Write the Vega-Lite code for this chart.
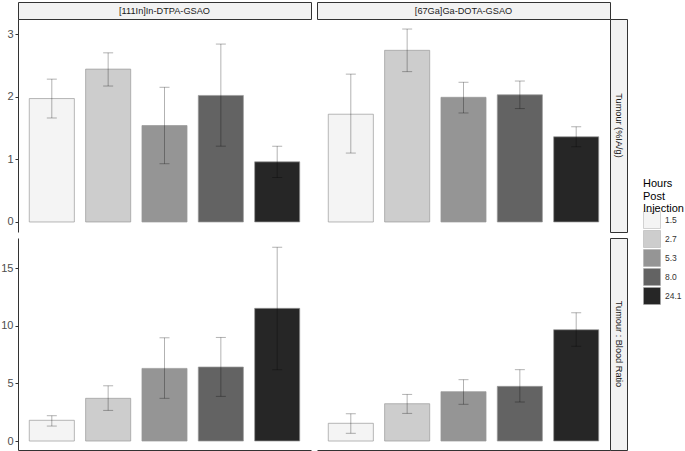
{
  "$schema": "https://vega.github.io/schema/vega-lite/v6.json",
  "padding": {"left": 0, "top": 1, "right": 0, "bottom": 0},
  "background": "white",
  "data": {"values": [
    {"compound": "[111In]In-DTPA-GSAO", "measure": "Tumour (%IA/g)", "hours": "1.5", "mean": 1.97, "lo": 1.66, "hi": 2.28},
    {"compound": "[111In]In-DTPA-GSAO", "measure": "Tumour (%IA/g)", "hours": "2.7", "mean": 2.44, "lo": 2.17, "hi": 2.70},
    {"compound": "[111In]In-DTPA-GSAO", "measure": "Tumour (%IA/g)", "hours": "5.3", "mean": 1.54, "lo": 0.93, "hi": 2.15},
    {"compound": "[111In]In-DTPA-GSAO", "measure": "Tumour (%IA/g)", "hours": "8.0", "mean": 2.02, "lo": 1.21, "hi": 2.84},
    {"compound": "[111In]In-DTPA-GSAO", "measure": "Tumour (%IA/g)", "hours": "24.1", "mean": 0.96, "lo": 0.71, "hi": 1.21},
    {"compound": "[67Ga]Ga-DOTA-GSAO", "measure": "Tumour (%IA/g)", "hours": "1.5", "mean": 1.72, "lo": 1.10, "hi": 2.36},
    {"compound": "[67Ga]Ga-DOTA-GSAO", "measure": "Tumour (%IA/g)", "hours": "2.7", "mean": 2.74, "lo": 2.40, "hi": 3.08},
    {"compound": "[67Ga]Ga-DOTA-GSAO", "measure": "Tumour (%IA/g)", "hours": "5.3", "mean": 1.99, "lo": 1.74, "hi": 2.23},
    {"compound": "[67Ga]Ga-DOTA-GSAO", "measure": "Tumour (%IA/g)", "hours": "8.0", "mean": 2.03, "lo": 1.81, "hi": 2.25},
    {"compound": "[67Ga]Ga-DOTA-GSAO", "measure": "Tumour (%IA/g)", "hours": "24.1", "mean": 1.36, "lo": 1.20, "hi": 1.52},
    {"compound": "[111In]In-DTPA-GSAO", "measure": "Tumour : Blood Ratio", "hours": "1.5", "mean": 1.80, "lo": 1.30, "hi": 2.20},
    {"compound": "[111In]In-DTPA-GSAO", "measure": "Tumour : Blood Ratio", "hours": "2.7", "mean": 3.71, "lo": 2.66, "hi": 4.80},
    {"compound": "[111In]In-DTPA-GSAO", "measure": "Tumour : Blood Ratio", "hours": "5.3", "mean": 6.31, "lo": 3.71, "hi": 8.97},
    {"compound": "[111In]In-DTPA-GSAO", "measure": "Tumour : Blood Ratio", "hours": "8.0", "mean": 6.43, "lo": 3.88, "hi": 9.00},
    {"compound": "[111In]In-DTPA-GSAO", "measure": "Tumour : Blood Ratio", "hours": "24.1", "mean": 11.53, "lo": 6.20, "hi": 16.83},
    {"compound": "[67Ga]Ga-DOTA-GSAO", "measure": "Tumour : Blood Ratio", "hours": "1.5", "mean": 1.54, "lo": 0.67, "hi": 2.37},
    {"compound": "[67Ga]Ga-DOTA-GSAO", "measure": "Tumour : Blood Ratio", "hours": "2.7", "mean": 3.24, "lo": 2.40, "hi": 4.05},
    {"compound": "[67Ga]Ga-DOTA-GSAO", "measure": "Tumour : Blood Ratio", "hours": "5.3", "mean": 4.29, "lo": 3.19, "hi": 5.33},
    {"compound": "[67Ga]Ga-DOTA-GSAO", "measure": "Tumour : Blood Ratio", "hours": "8.0", "mean": 4.75, "lo": 3.39, "hi": 6.20},
    {"compound": "[67Ga]Ga-DOTA-GSAO", "measure": "Tumour : Blood Ratio", "hours": "24.1", "mean": 9.67, "lo": 8.23, "hi": 11.15}
  ]},
  "columns": 4,
  "spacing": 0,
  "bounds": "flush",
  "concat": [
    {"width": 293, "height": 17, "view": {"fill": "#f2f2f2", "stroke": "#333333", "strokeWidth": 1},
     "data": {"values": [{"t": "[111In]In-DTPA-GSAO"}]},
     "mark": {"type": "text", "fontSize": 9.2, "color": "#1a1a1a"},
     "encoding": {"text": {"field": "t"}}},
    {"width": 6, "height": 6, "data": {"values": []}, "mark": "point"},
    {"width": 293, "height": 17, "view": {"fill": "#f2f2f2", "stroke": "#333333", "strokeWidth": 1},
     "data": {"values": [{"t": "[67Ga]Ga-DOTA-GSAO"}]},
     "mark": {"type": "text", "fontSize": 9.2, "color": "#1a1a1a"},
     "encoding": {"text": {"field": "t"}}},
    {"width": 6, "height": 6, "data": {"values": []}, "mark": "point"},

    {
      "width": 293, "height": 213,
      "transform": [{"filter": "datum.compound === '[111In]In-DTPA-GSAO' && datum.measure === 'Tumour (%IA/g)'"}],
      "encoding": {"x": {"field": "hours", "type": "nominal", "sort": ["1.5", "2.7", "5.3", "8.0", "24.1"], "scale": {"paddingInner": 0.2, "paddingOuter": 0.2}, "axis": null}},
      "layer": [
        {"mark": {"type": "bar", "stroke": "#999999", "strokeWidth": 0.7},
         "encoding": {"y": {"field": "mean", "type": "quantitative", "scale": {"domain": [-0.16, 3.24], "nice": false, "zero": false}, "axis": {"values": [0, 1, 2, 3], "format": "d", "title": null}},
           "y2": {"datum": 0},
           "color": {"field": "hours", "type": "nominal", "sort": ["1.5", "2.7", "5.3", "8.0", "24.1"], "scale": {"domain": ["1.5", "2.7", "5.3", "8.0", "24.1"], "range": ["#f4f4f4", "#cdcdcd", "#959595", "#636363", "#262626"]}, "title": ["Hours", "Post", "Injection"]}}},
        {"mark": {"type": "rule", "color": "#000000", "opacity": 0.3},
         "encoding": {"y": {"field": "lo", "type": "quantitative", "axis": {"title": null}}, "y2": {"field": "hi"}}},
        {"mark": {"type": "tick", "color": "#000000", "opacity": 0.3, "size": 10, "thickness": 1},
         "encoding": {"y": {"field": "hi", "type": "quantitative", "axis": {"title": null}}}},
        {"mark": {"type": "tick", "color": "#000000", "opacity": 0.3, "size": 10, "thickness": 1},
         "encoding": {"y": {"field": "lo", "type": "quantitative", "axis": {"title": null}}}}
      ]
    },
    {"width": 6, "height": 6, "data": {"values": []}, "mark": "point"},
    {
      "width": 293, "height": 213,
      "transform": [{"filter": "datum.compound === '[67Ga]Ga-DOTA-GSAO' && datum.measure === 'Tumour (%IA/g)'"}],
      "encoding": {"x": {"field": "hours", "type": "nominal", "sort": ["1.5", "2.7", "5.3", "8.0", "24.1"], "scale": {"paddingInner": 0.2, "paddingOuter": 0.2}, "axis": null}},
      "layer": [
        {"mark": {"type": "bar", "stroke": "#999999", "strokeWidth": 0.7},
         "encoding": {"y": {"field": "mean", "type": "quantitative", "scale": {"domain": [-0.16, 3.24], "nice": false, "zero": false}, "axis": null},
           "y2": {"datum": 0},
           "color": {"field": "hours", "type": "nominal", "sort": ["1.5", "2.7", "5.3", "8.0", "24.1"], "scale": {"domain": ["1.5", "2.7", "5.3", "8.0", "24.1"], "range": ["#f4f4f4", "#cdcdcd", "#959595", "#636363", "#262626"]}, "title": ["Hours", "Post", "Injection"]}}},
        {"mark": {"type": "rule", "color": "#000000", "opacity": 0.3},
         "encoding": {"y": {"field": "lo", "type": "quantitative", "axis": null}, "y2": {"field": "hi"}}},
        {"mark": {"type": "tick", "color": "#000000", "opacity": 0.3, "size": 10, "thickness": 1},
         "encoding": {"y": {"field": "hi", "type": "quantitative", "axis": null}}},
        {"mark": {"type": "tick", "color": "#000000", "opacity": 0.3, "size": 10, "thickness": 1},
         "encoding": {"y": {"field": "lo", "type": "quantitative", "axis": null}}}
      ]
    },
    {"width": 17, "height": 213, "view": {"fill": "#f2f2f2", "stroke": "#333333", "strokeWidth": 1},
     "data": {"values": [{"t": "Tumour (%IA/g)"}]},
     "mark": {"type": "text", "fontSize": 9.2, "color": "#1a1a1a", "angle": 90},
     "encoding": {"text": {"field": "t"}}},

    {"width": 6, "height": 6, "data": {"values": []}, "mark": "point"},
    {"width": 6, "height": 6, "data": {"values": []}, "mark": "point"},
    {"width": 6, "height": 6, "data": {"values": []}, "mark": "point"},
    {"width": 6, "height": 6, "data": {"values": []}, "mark": "point"},

    {
      "width": 293, "height": 212,
      "transform": [{"filter": "datum.compound === '[111In]In-DTPA-GSAO' && datum.measure === 'Tumour : Blood Ratio'"}],
      "encoding": {"x": {"field": "hours", "type": "nominal", "sort": ["1.5", "2.7", "5.3", "8.0", "24.1"], "scale": {"paddingInner": 0.2, "paddingOuter": 0.2}, "axis": {"labels": false, "ticks": false, "domain": true, "title": null}}},
      "layer": [
        {"mark": {"type": "bar", "stroke": "#999999", "strokeWidth": 0.7},
         "encoding": {"y": {"field": "mean", "type": "quantitative", "scale": {"domain": [-0.78, 17.64], "nice": false, "zero": false}, "axis": {"values": [0, 5, 10, 15], "format": "d", "title": null}},
           "y2": {"datum": 0},
           "color": {"field": "hours", "type": "nominal", "sort": ["1.5", "2.7", "5.3", "8.0", "24.1"], "scale": {"domain": ["1.5", "2.7", "5.3", "8.0", "24.1"], "range": ["#f4f4f4", "#cdcdcd", "#959595", "#636363", "#262626"]}, "title": ["Hours", "Post", "Injection"]}}},
        {"mark": {"type": "rule", "color": "#000000", "opacity": 0.3},
         "encoding": {"y": {"field": "lo", "type": "quantitative", "axis": {"title": null}}, "y2": {"field": "hi"}}},
        {"mark": {"type": "tick", "color": "#000000", "opacity": 0.3, "size": 10, "thickness": 1},
         "encoding": {"y": {"field": "hi", "type": "quantitative", "axis": {"title": null}}}},
        {"mark": {"type": "tick", "color": "#000000", "opacity": 0.3, "size": 10, "thickness": 1},
         "encoding": {"y": {"field": "lo", "type": "quantitative", "axis": {"title": null}}}}
      ]
    },
    {"width": 6, "height": 6, "data": {"values": []}, "mark": "point"},
    {
      "width": 293, "height": 212,
      "transform": [{"filter": "datum.compound === '[67Ga]Ga-DOTA-GSAO' && datum.measure === 'Tumour : Blood Ratio'"}],
      "encoding": {"x": {"field": "hours", "type": "nominal", "sort": ["1.5", "2.7", "5.3", "8.0", "24.1"], "scale": {"paddingInner": 0.2, "paddingOuter": 0.2}, "axis": {"labels": false, "ticks": false, "domain": true, "title": null}}},
      "layer": [
        {"mark": {"type": "bar", "stroke": "#999999", "strokeWidth": 0.7},
         "encoding": {"y": {"field": "mean", "type": "quantitative", "scale": {"domain": [-0.78, 17.64], "nice": false, "zero": false}, "axis": null},
           "y2": {"datum": 0},
           "color": {"field": "hours", "type": "nominal", "sort": ["1.5", "2.7", "5.3", "8.0", "24.1"], "scale": {"domain": ["1.5", "2.7", "5.3", "8.0", "24.1"], "range": ["#f4f4f4", "#cdcdcd", "#959595", "#636363", "#262626"]}, "title": ["Hours", "Post", "Injection"]}}},
        {"mark": {"type": "rule", "color": "#000000", "opacity": 0.3},
         "encoding": {"y": {"field": "lo", "type": "quantitative", "axis": null}, "y2": {"field": "hi"}}},
        {"mark": {"type": "tick", "color": "#000000", "opacity": 0.3, "size": 10, "thickness": 1},
         "encoding": {"y": {"field": "hi", "type": "quantitative", "axis": null}}},
        {"mark": {"type": "tick", "color": "#000000", "opacity": 0.3, "size": 10, "thickness": 1},
         "encoding": {"y": {"field": "lo", "type": "quantitative", "axis": null}}}
      ]
    },
    {"width": 17, "height": 212, "view": {"fill": "#f2f2f2", "stroke": "#333333", "strokeWidth": 1},
     "data": {"values": [{"t": "Tumour : Blood Ratio"}]},
     "mark": {"type": "text", "fontSize": 9.2, "color": "#1a1a1a", "angle": 90},
     "encoding": {"text": {"field": "t"}}}
  ],
  "config": {
    "font": "Liberation Sans",
    "view": {"stroke": null},
    "axis": {"grid": false, "domainColor": "#333333", "domainWidth": 1, "tickColor": "#333333", "tickSize": 3, "labelPadding": 2, "labelFontSize": 11, "labelColor": "#4d4d4d"},
    "legend": {
      "orient": "none", "legendX": 625, "legendY": 176,
      "titleFontSize": 11, "titleFontWeight": "normal", "titleColor": "#000000", "titleLineHeight": 12.5, "titlePadding": -3,
      "labelFontSize": 8.5, "labelColor": "#333333", "labelOffset": 4,
      "symbolType": "square", "symbolSize": 289, "symbolStrokeColor": "#aaaaaa", "symbolStrokeWidth": 0.5, "rowPadding": -4.5
    }
  }
}
